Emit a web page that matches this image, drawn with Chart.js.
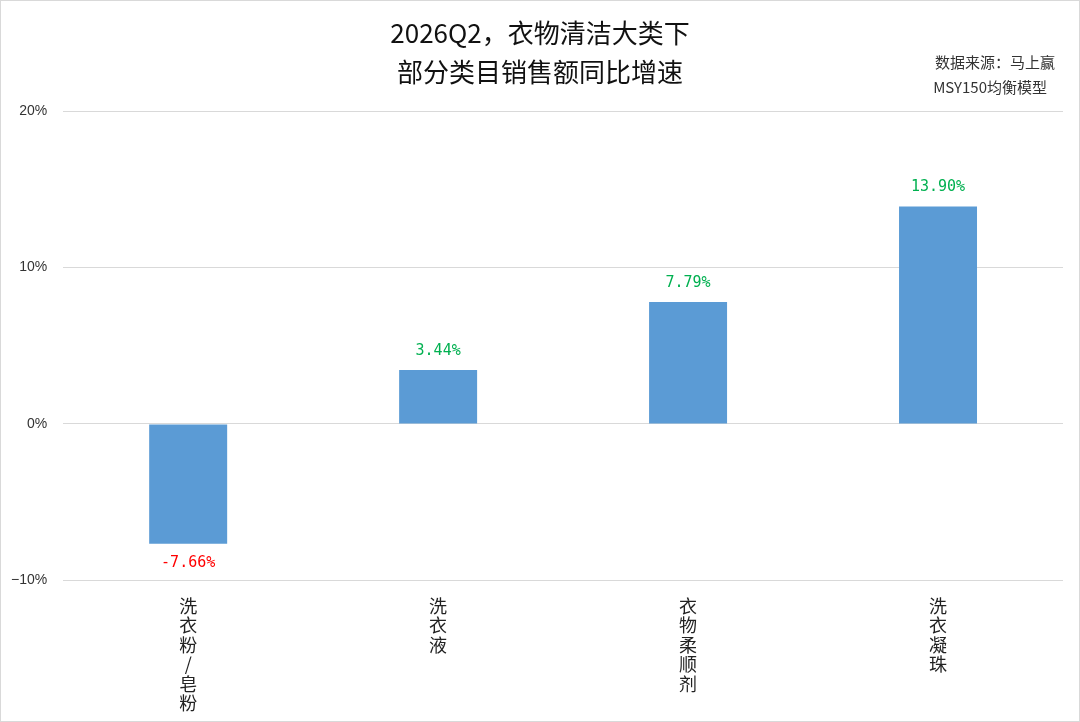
<!DOCTYPE html>
<html>
<head>
<meta charset="utf-8">
<script src="https://cdn.jsdelivr.net/npm/chart.js@4.4.0/dist/chart.umd.min.js"></script>
<style>
    html, body { margin: 0; padding: 0; background: #fff; }
    #wrap { width: 1080px; height: 722px; box-sizing: border-box; border: 1px solid #d9d9d9; }
    #myChart { display: block; }
</style>
</head>
<body>
<div id="wrap"><canvas id="myChart" width="1078" height="720"></canvas></div>
<script>
// chart data
const categories = ["洗衣粉/皂粉", "洗衣液", "衣物柔顺剂", "洗衣凝珠"];
const growth = [-7.66, 3.44, 7.79, 13.90];
const titleLines = ["2026Q2，衣物清洁大类下", "部分类目销售额同比增速"];
const sourceLines = ["数据来源：马上赢", "MSY150均衡模型"];

const cjk = "'Noto Sans CJK SC', 'Noto Sans', sans-serif";

// vertical labels: one character per line
let verticalLabels = categories.map(function(c) { return c.split(""); });

const headerPlugin = {
    id: "header",
    afterDraw: function(chart) {
        let ctx = chart.ctx;
        ctx.save();
        ctx.fillStyle = "#111";
        ctx.textAlign = "center";
        ctx.textBaseline = "middle";
        ctx.font = "26px " + cjk;
        ctx.fillText(titleLines[0], 539, 32);
        ctx.fillText(titleLines[1], 539, 71);
        ctx.fillStyle = "#333";
        ctx.textAlign = "right";
        ctx.font = "15px " + cjk;
        ctx.fillText(sourceLines[0], 1054, 61);
        ctx.fillText(sourceLines[1], 1046, 86);
        ctx.restore();
    }
};

const valueLabels = {
    id: "valueLabels",
    afterDatasetsDraw: function(chart) {
        let ctx = chart.ctx;
        let meta = chart.getDatasetMeta(0);
        ctx.save();
        ctx.font = "15px 'DejaVu Sans Mono', monospace";
        ctx.textAlign = "center";
        ctx.textBaseline = "middle";
        meta.data.forEach(function(bar, i) {
            let v = growth[i];
            if (v >= 0) {
                ctx.fillStyle = "#00b050";
                ctx.fillText(v.toFixed(2) + "%", bar.x, bar.y - 19);
            } else {
                ctx.fillStyle = "#ff0000";
                ctx.fillText(v.toFixed(2) + "%", bar.x, bar.y + 19);
            }
        });
        ctx.restore();
    }
};

let canvas = document.getElementById("myChart").getContext("2d");
let myChart = new Chart(canvas, {
    type: "bar",
    data: {
        labels: verticalLabels,
        datasets: [{
            data: growth,
            backgroundColor: "#5b9bd5",
            borderWidth: 0,
            barPercentage: 0.312,
            categoryPercentage: 1
        }]
    },
    options: {
        responsive: false,
        animation: false,
        layout: { padding: { top: 110, left: -6, right: 16, bottom: -8 } },
        plugins: {
            legend: { display: false },
            tooltip: { enabled: false }
        },
        scales: {
            x: {
                grid: { display: false, drawTicks: false },
                border: { display: false },
                ticks: {
                    color: "#222",
                    padding: 16,
                    maxRotation: 0,
                    autoSkip: false,
                    font: { size: 18, family: cjk, lineHeight: 1.08 }
                }
            },
            y: {
                min: -10,
                max: 20,
                grid: { color: "#d9d9d9", drawTicks: false },
                border: { display: false },
                ticks: {
                    stepSize: 10,
                    padding: 16,
                    color: "#333",
                    font: { size: 14, family: "'Liberation Sans', Arial, sans-serif" },
                    callback: function(v) { return (v < 0 ? "\u2212" + Math.abs(v) : v) + "%"; }
                }
            }
        }
    },
    plugins: [headerPlugin, valueLabels]
});
</script>
</body>
</html>
